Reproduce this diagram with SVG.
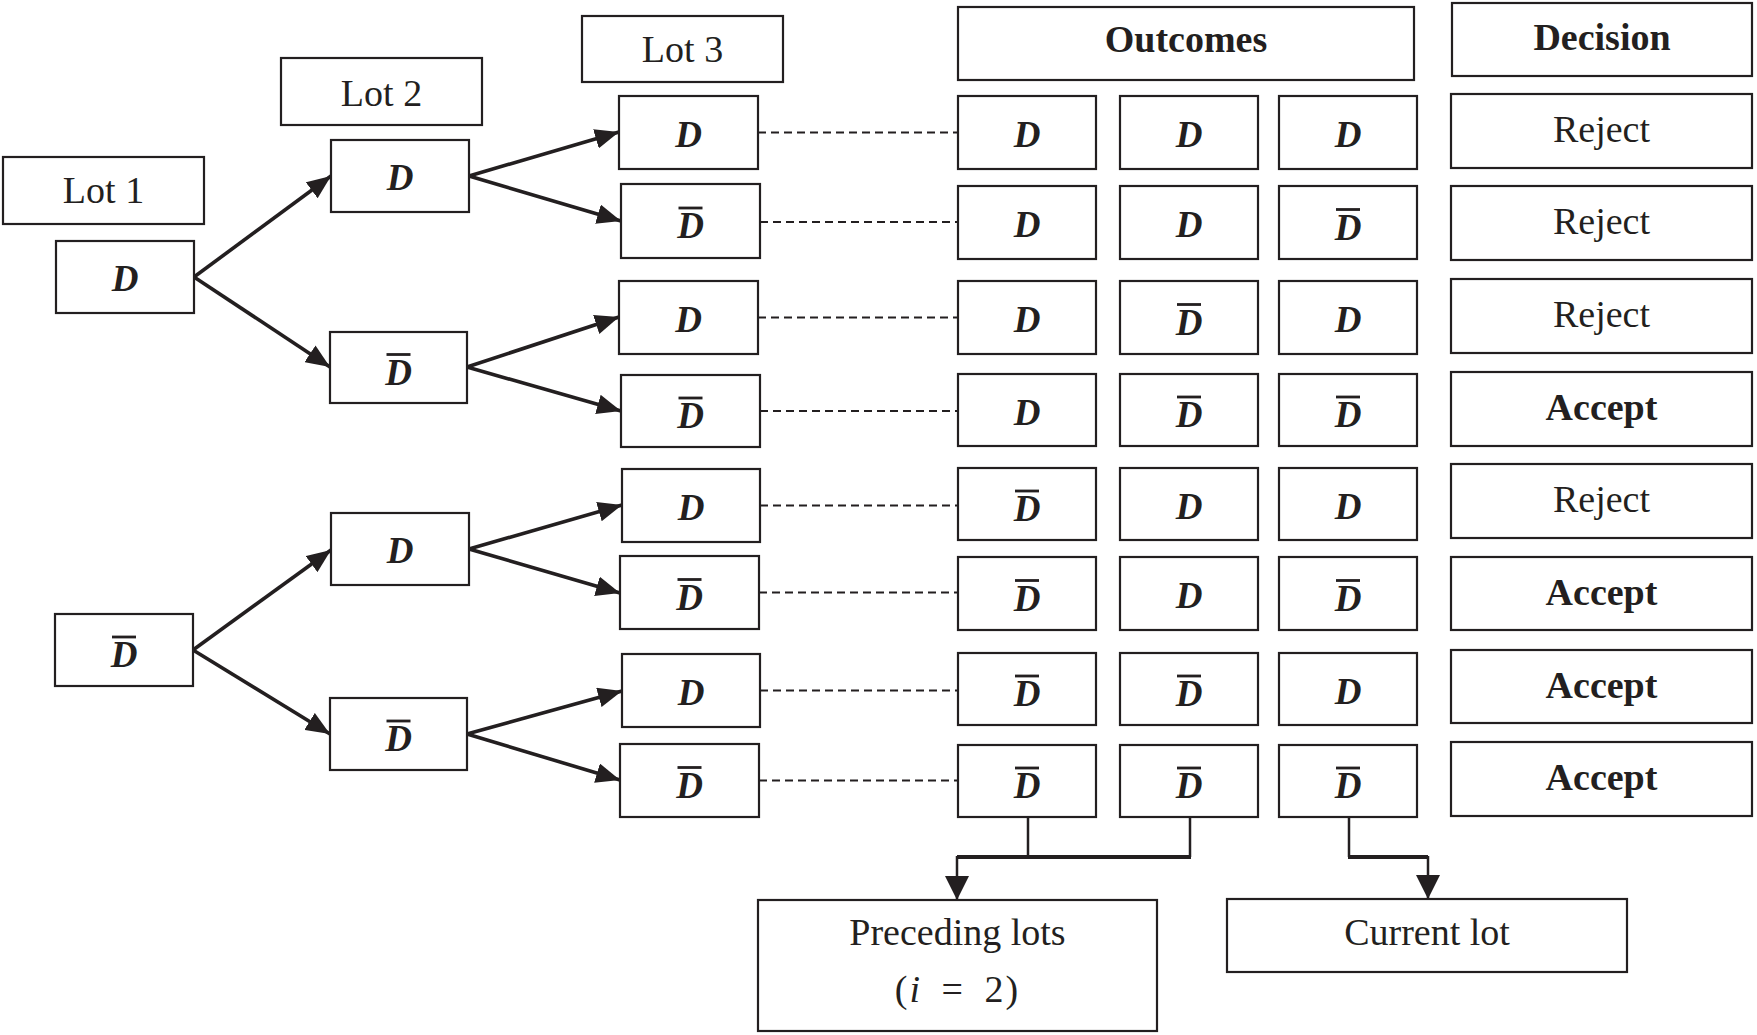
<svg xmlns="http://www.w3.org/2000/svg" width="1757" height="1035" viewBox="0 0 1757 1035">
<style>
.box{fill:#fff;stroke:#231f20;stroke-width:2.2}
.t{font-family:"Liberation Serif","Times New Roman",serif;font-size:38px;fill:#231f20;text-anchor:middle}
.b{font-weight:bold}
.d{font-weight:bold;font-style:italic;font-size:37px}
.bar{stroke:#231f20;stroke-width:2.8}
.tree{stroke:#231f20;stroke-width:3.6;fill:none;marker-end:url(#ah)}
.dash{stroke:#231f20;stroke-width:1.8;stroke-dasharray:8 5;fill:none}
.thin{stroke:#231f20;stroke-width:2.5;fill:none}
.thick{stroke:#231f20;stroke-width:3.8;fill:none}
</style>
<defs>
<marker id="ah" markerUnits="userSpaceOnUse" markerWidth="26" markerHeight="20" refX="24" refY="10" orient="auto">
<path d="M0,0 L24,10 L0,20 Z" fill="#231f20"/>
</marker>
<marker id="ahs" markerUnits="userSpaceOnUse" markerWidth="26" markerHeight="24" refX="24" refY="12" orient="auto">
<path d="M0,0 L24,12 L0,24 Z" fill="#231f20"/>
</marker>
</defs>
<rect width="1757" height="1035" fill="#fff"/>

<g id="connectors">
<path class="tree" d="M194,277 L331,176"/>
<path class="tree" d="M194,277 L330,367"/>
<path class="tree" d="M193,650 L331,550"/>
<path class="tree" d="M193,650 L330,734"/>
<path class="tree" d="M469,176 L619,132"/>
<path class="tree" d="M469,176 L621,221"/>
<path class="tree" d="M467,367 L619,317"/>
<path class="tree" d="M467,367 L621,411"/>
<path class="tree" d="M469,549 L622,505"/>
<path class="tree" d="M469,549 L620,593"/>
<path class="tree" d="M467,734 L622,691"/>
<path class="tree" d="M467,734 L620,780"/>
<path class="dash" d="M758,132.5 H958"/>
<path class="dash" d="M760,222 H958"/>
<path class="dash" d="M758,317.5 H958"/>
<path class="dash" d="M760,411 H958"/>
<path class="dash" d="M760,505.5 H958"/>
<path class="dash" d="M759,592.5 H958"/>
<path class="dash" d="M760,690.5 H958"/>
<path class="dash" d="M759,780.5 H958"/>
<path class="thin" d="M1028,817 V857"/>
<path class="thin" d="M1190,817 V857"/>
<path class="thick" d="M957,857 H1191"/>
<path class="thin" d="M957,856 V900" marker-end="url(#ahs)"/>
<path class="thin" d="M1349,817 V857"/>
<path class="thick" d="M1348,857 H1428"/>
<path class="thin" d="M1428,856 V899" marker-end="url(#ahs)"/>
</g>

<g id="lot1-header"><rect class="box" x="3" y="157" width="201" height="67"/><text class="t" x="103.5" y="203">Lot 1</text></g>
<g id="lot2-header"><rect class="box" x="281" y="58" width="201" height="67"/><text class="t" x="381.5" y="106">Lot 2</text></g>
<g id="lot3-header"><rect class="box" x="582" y="16" width="201" height="66"/><text class="t" x="682.5" y="62">Lot 3</text></g>
<g id="outcomes-header"><rect class="box" x="958" y="7" width="456" height="73"/><text class="t b" x="1186" y="52">Outcomes</text></g>
<g id="decision-header"><rect class="box" x="1452" y="3" width="300" height="73"/><text class="t b" x="1602" y="50">Decision</text></g>

<g id="lot1-D"><rect class="box" x="56" y="241" width="138" height="72"/><text class="t d" x="125" y="291">D</text></g>
<g id="lot1-Dbar"><rect class="box" x="55" y="614" width="138" height="72"/><text class="t d" x="124" y="667">D</text><line class="bar" x1="112" y1="637" x2="136" y2="637"/></g>

<g id="lot2-D-1"><rect class="box" x="331" y="140" width="138" height="72"/><text class="t d" x="400" y="190">D</text></g>
<g id="lot2-Dbar-1"><rect class="box" x="330" y="332" width="137" height="71"/><text class="t d" x="398.5" y="384.5">D</text><line class="bar" x1="386.5" y1="354.5" x2="410.5" y2="354.5"/></g>
<g id="lot2-D-2"><rect class="box" x="331" y="513" width="138" height="72"/><text class="t d" x="400" y="563">D</text></g>
<g id="lot2-Dbar-2"><rect class="box" x="330" y="698" width="137" height="72"/><text class="t d" x="398.5" y="751">D</text><line class="bar" x1="386.5" y1="721" x2="410.5" y2="721"/></g>

<g id="lot3-r1"><rect class="box" x="619" y="96" width="139" height="73"/><text class="t d" x="688.5" y="147">D</text></g>
<g id="lot3-r2"><rect class="box" x="621" y="184" width="139" height="74"/><text class="t d" x="690.5" y="238">D</text><line class="bar" x1="678.5" y1="208" x2="702.5" y2="208"/></g>
<g id="lot3-r3"><rect class="box" x="619" y="281" width="139" height="73"/><text class="t d" x="688.5" y="332">D</text></g>
<g id="lot3-r4"><rect class="box" x="621" y="375" width="139" height="72"/><text class="t d" x="690.5" y="428">D</text><line class="bar" x1="678.5" y1="398" x2="702.5" y2="398"/></g>
<g id="lot3-r5"><rect class="box" x="622" y="469" width="138" height="73"/><text class="t d" x="691" y="520">D</text></g>
<g id="lot3-r6"><rect class="box" x="620" y="556" width="139" height="73"/><text class="t d" x="689.5" y="609.5">D</text><line class="bar" x1="677.5" y1="579.5" x2="701.5" y2="579.5"/></g>
<g id="lot3-r7"><rect class="box" x="622" y="654" width="138" height="73"/><text class="t d" x="691" y="705">D</text></g>
<g id="lot3-r8"><rect class="box" x="620" y="744" width="139" height="73"/><text class="t d" x="689.5" y="797.5">D</text><line class="bar" x1="677.5" y1="767.5" x2="701.5" y2="767.5"/></g>

<g id="out-r1c1"><rect class="box" x="958" y="96" width="138" height="73"/><text class="t d" x="1027" y="147">D</text></g>
<g id="out-r1c2"><rect class="box" x="1120" y="96" width="138" height="73"/><text class="t d" x="1189" y="147">D</text></g>
<g id="out-r1c3"><rect class="box" x="1279" y="96" width="138" height="73"/><text class="t d" x="1348" y="147">D</text></g>

<g id="out-r2c1"><rect class="box" x="958" y="186" width="138" height="73"/><text class="t d" x="1027" y="237">D</text></g>
<g id="out-r2c2"><rect class="box" x="1120" y="186" width="138" height="73"/><text class="t d" x="1189" y="237">D</text></g>
<g id="out-r2c3"><rect class="box" x="1279" y="186" width="138" height="73"/><text class="t d" x="1348" y="239.5">D</text><line class="bar" x1="1336" y1="209.5" x2="1360" y2="209.5"/></g>

<g id="out-r3c1"><rect class="box" x="958" y="281" width="138" height="73"/><text class="t d" x="1027" y="332">D</text></g>
<g id="out-r3c2"><rect class="box" x="1120" y="281" width="138" height="73"/><text class="t d" x="1189" y="334.5">D</text><line class="bar" x1="1177" y1="304.5" x2="1201" y2="304.5"/></g>
<g id="out-r3c3"><rect class="box" x="1279" y="281" width="138" height="73"/><text class="t d" x="1348" y="332">D</text></g>

<g id="out-r4c1"><rect class="box" x="958" y="374" width="138" height="72"/><text class="t d" x="1027" y="424.5">D</text></g>
<g id="out-r4c2"><rect class="box" x="1120" y="374" width="138" height="72"/><text class="t d" x="1189" y="427">D</text><line class="bar" x1="1177" y1="397" x2="1201" y2="397"/></g>
<g id="out-r4c3"><rect class="box" x="1279" y="374" width="138" height="72"/><text class="t d" x="1348" y="427">D</text><line class="bar" x1="1336" y1="397" x2="1360" y2="397"/></g>

<g id="out-r5c1"><rect class="box" x="958" y="468" width="138" height="72"/><text class="t d" x="1027" y="521">D</text><line class="bar" x1="1015" y1="491" x2="1039" y2="491"/></g>
<g id="out-r5c2"><rect class="box" x="1120" y="468" width="138" height="72"/><text class="t d" x="1189" y="518.5">D</text></g>
<g id="out-r5c3"><rect class="box" x="1279" y="468" width="138" height="72"/><text class="t d" x="1348" y="518.5">D</text></g>

<g id="out-r6c1"><rect class="box" x="958" y="557" width="138" height="73"/><text class="t d" x="1027" y="610.5">D</text><line class="bar" x1="1015" y1="580.5" x2="1039" y2="580.5"/></g>
<g id="out-r6c2"><rect class="box" x="1120" y="557" width="138" height="73"/><text class="t d" x="1189" y="608">D</text></g>
<g id="out-r6c3"><rect class="box" x="1279" y="557" width="138" height="73"/><text class="t d" x="1348" y="610.5">D</text><line class="bar" x1="1336" y1="580.5" x2="1360" y2="580.5"/></g>

<g id="out-r7c1"><rect class="box" x="958" y="653" width="138" height="72"/><text class="t d" x="1027" y="706">D</text><line class="bar" x1="1015" y1="676" x2="1039" y2="676"/></g>
<g id="out-r7c2"><rect class="box" x="1120" y="653" width="138" height="72"/><text class="t d" x="1189" y="706">D</text><line class="bar" x1="1177" y1="676" x2="1201" y2="676"/></g>
<g id="out-r7c3"><rect class="box" x="1279" y="653" width="138" height="72"/><text class="t d" x="1348" y="703.5">D</text></g>

<g id="out-r8c1"><rect class="box" x="958" y="745" width="138" height="72"/><text class="t d" x="1027" y="798">D</text><line class="bar" x1="1015" y1="768" x2="1039" y2="768"/></g>
<g id="out-r8c2"><rect class="box" x="1120" y="745" width="138" height="72"/><text class="t d" x="1189" y="798">D</text><line class="bar" x1="1177" y1="768" x2="1201" y2="768"/></g>
<g id="out-r8c3"><rect class="box" x="1279" y="745" width="138" height="72"/><text class="t d" x="1348" y="798">D</text><line class="bar" x1="1336" y1="768" x2="1360" y2="768"/></g>

<g id="dec-r1"><rect class="box" x="1451" y="94" width="301" height="74"/><text class="t" x="1601.5" y="142">Reject</text></g>
<g id="dec-r2"><rect class="box" x="1451" y="186" width="301" height="74"/><text class="t" x="1601.5" y="234">Reject</text></g>
<g id="dec-r3"><rect class="box" x="1451" y="279" width="301" height="74"/><text class="t" x="1601.5" y="327">Reject</text></g>
<g id="dec-r4"><rect class="box" x="1451" y="372" width="301" height="74"/><text class="t b" x="1601.5" y="420">Accept</text></g>
<g id="dec-r5"><rect class="box" x="1451" y="464" width="301" height="74"/><text class="t" x="1601.5" y="512">Reject</text></g>
<g id="dec-r6"><rect class="box" x="1451" y="557" width="301" height="73"/><text class="t b" x="1601.5" y="604.5">Accept</text></g>
<g id="dec-r7"><rect class="box" x="1451" y="650" width="301" height="73"/><text class="t b" x="1601.5" y="697.5">Accept</text></g>
<g id="dec-r8"><rect class="box" x="1451" y="742" width="301" height="74"/><text class="t b" x="1601.5" y="790">Accept</text></g>

<g id="preceding-lots"><rect class="box" x="758" y="900" width="399" height="131"/><text class="t" x="957.5" y="945">Preceding lots</text><text class="t" x="957.5" y="1002" word-spacing="8" letter-spacing="2">(<tspan font-style="italic">i</tspan> = 2)</text></g>
<g id="current-lot"><rect class="box" x="1227" y="899" width="400" height="73"/><text class="t" x="1427" y="945">Current lot</text></g>
</svg>
